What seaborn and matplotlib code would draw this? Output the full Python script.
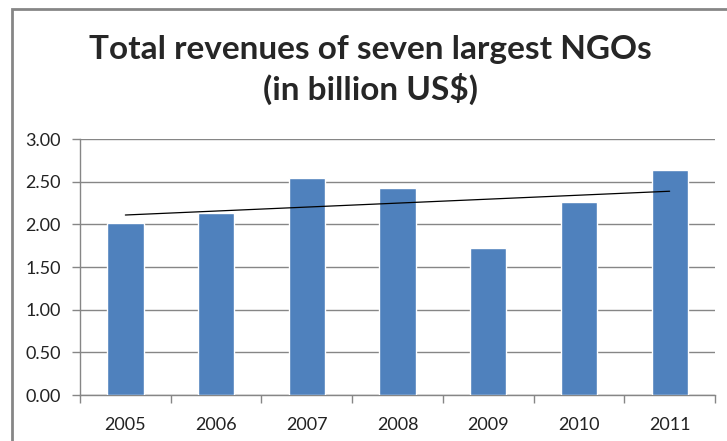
import matplotlib
matplotlib.use("Agg")
import matplotlib.pyplot as plt
from matplotlib.patches import Rectangle
import numpy as np
import pandas as pd
import seaborn as sns

years = ["2005", "2006", "2007", "2008", "2009", "2010", "2011"]
revenue = [2.02, 2.13, 2.54, 2.43, 1.72, 2.26, 2.64]
title = "Total revenues of seven largest NGOs\n(in billion US$)"

df = pd.DataFrame({"Year": years, "Revenue": revenue})

sns.set_style("white")
plt.rcParams['font.family'] = ['Lato', 'DejaVu Sans']

grey = "#868686"
fig = plt.figure(figsize=(7.27, 4.41), dpi=100)
ax = fig.add_axes([80 / 727, 1 - 395 / 441, 635 / 727, 256 / 441])

sns.barplot(data=df, x="Year", y="Revenue", color="#4F81BD", saturation=1,
            width=0.4, ax=ax, zorder=3)
# linear trend line like in excel
sns.regplot(x=np.arange(len(years)), y=np.array(revenue), scatter=False, ci=None,
            truncate=True, color="black", line_kws={"lw": 0.9, "zorder": 4}, ax=ax)

ax.set_xlim(-0.5, len(years) - 0.5)
ax.set_ylim(0, 3)
ax.set_yticks(np.arange(0, 3.01, 0.5))
ax.set_yticklabels([f"{v:.2f}" for v in np.arange(0, 3.01, 0.5)])
ax.set_xticks(np.arange(len(years)))
ax.set_xticklabels(years)
ax.set_xticks(np.arange(-0.5, len(years), 1), minor=True)
ax.set_xlabel("")
ax.set_ylabel("")

ax.yaxis.grid(True, color=grey, lw=1)
ax.set_axisbelow(True)
for s in ["top", "right"]:
    ax.spines[s].set_visible(False)
for s in ["left", "bottom"]:
    ax.spines[s].set_color(grey)
    ax.spines[s].set_linewidth(1)

ax.tick_params(axis="y", left=True, length=6, width=1, color=grey, pad=8,
               labelsize=13, labelcolor="#222222")
ax.tick_params(axis="x", which="major", bottom=False, pad=12,
               labelsize=13, labelcolor="#222222")
ax.tick_params(axis="x", which="minor", bottom=True, length=6, width=1, color=grey)

fig.text(0.51, 1 - 70 / 441, title, ha="center", va="center",
         fontsize=24, fontweight="bold", linespacing=1.3)

# chart area border
fig.patches.append(Rectangle((12 / 727, -0.1), 2, 1.1 - 9 / 441, transform=fig.transFigure,
                             fill=False, edgecolor=grey, lw=2, zorder=0))

fig.savefig("out.png", dpi=100)
